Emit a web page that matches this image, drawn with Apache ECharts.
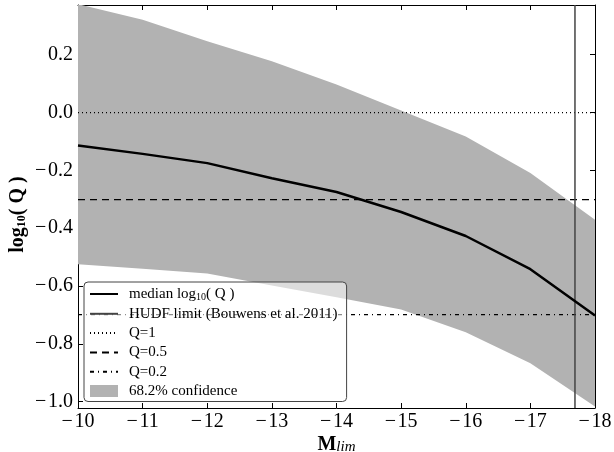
<!DOCTYPE html>
<html>
<head>
<meta charset="utf-8">
<script src="https://cdn.jsdelivr.net/npm/echarts@6/dist/echarts.min.js"></script>
<style>
html,body{margin:0;padding:0;background:#fff;}
#chart{width:614px;height:452px;}
</style>
</head>
<body>
<div id="chart"></div>
<script>
// ---- data ----
const mLim = [-10, -11, -12, -13, -14, -15, -16, -17, -18];
const medianLogQ = [-0.114, -0.143, -0.175, -0.227, -0.275, -0.344, -0.427, -0.542, -0.702];
const upper68 = [0.375, 0.321, 0.247, 0.177, 0.097, 0.007, -0.083, -0.209, -0.371];
const lower68 = [-0.525, -0.540, -0.557, -0.598, -0.639, -0.681, -0.760, -0.867, -1.017];
const hudfLimit = -17.69;
const qLevelNames = ['Q=1', 'Q=0.5', 'Q=0.2'];
const qLevelLog = [0.0, -0.301, -0.699];
const xRange = [-18, -10];
const yRange = [-1.022, 0.372];

const FONT = 'Liberation Serif';
const MINUS = '\u2212\u200A';
const minus = v => (v < 0 ? MINUS : '') + Math.abs(v);

const medianData = mLim.map((x, i) => [x, medianLogQ[i]]);

const qStyles = [
  {type: [1, 3], width: 1.2},
  {type: [7, 5], width: 1.2},
  {type: [4, 4, 1, 4], width: 1.2}
];

const series = [
  {
    name: '68.2% confidence', type: 'custom', coordinateSystem: 'cartesian2d',
    data: [[mLim[0], upper68[0]]],
    encode: {x: 0, y: 1},
    clip: true, silent: true, z: 1,
    itemStyle: {color: '#b2b2b2'},
    renderItem: function (params, api) {
      if (params.dataIndex !== 0) return null;
      const pts = [];
      for (let i = 0; i < mLim.length; i++) pts.push(api.coord([mLim[i], upper68[i]]));
      for (let i = mLim.length - 1; i >= 0; i--) pts.push(api.coord([mLim[i], lower68[i]]));
      return {type: 'polygon', shape: {points: pts}, style: {fill: '#b2b2b2', stroke: null}};
    }
  },
  {
    name: 'median', type: 'line', data: medianData, symbol: 'none',
    lineStyle: {color: '#000', width: 2.5}, itemStyle: {color: '#000'}, z: 5
  },
  {
    name: 'HUDF limit (Bouwens et al. 2011)', type: 'line',
    data: [[hudfLimit, yRange[0]], [hudfLimit, yRange[1]]], symbol: 'none',
    lineStyle: {color: '#444', width: 1.5}, itemStyle: {color: '#000'}, z: 4
  }
];
qLevelNames.forEach((n, i) => {
  series.push({
    name: n, type: 'line',
    data: [[xRange[1], qLevelLog[i]], [xRange[0], qLevelLog[i]]],
    symbol: 'none',
    lineStyle: {color: '#000', width: qStyles[i].width, type: qStyles[i].type},
    itemStyle: {color: '#000'}, z: 3
  });
});

const yLabelFmt = v => {
  if (Math.abs(v / 0.2 - Math.round(v / 0.2)) > 1e-6) return '';
  const r = Math.round(v * 10) / 10;
  return (r < 0 ? MINUS : '') + Math.abs(r).toFixed(1);
};

const axisCommon = {
  axisLine: {show: true, onZero: false, lineStyle: {color: '#000', width: 1}},
  axisTick: {show: true, inside: true, length: 5, lineStyle: {color: '#000', width: 1}},
  splitLine: {show: false}
};

const hideSym = {itemStyle: {opacity: 0}};

const chart = echarts.init(document.getElementById('chart'), null, {renderer: 'canvas'});
chart.setOption({
  animation: false,
  backgroundColor: '#fff',
  grid: {left: 78, right: 19, top: 5, bottom: 44, containLabel: false, outerBoundsMode: 'none'},
  xAxis: [
    Object.assign({
      type: 'value', min: xRange[0], max: xRange[1], interval: 1, inverse: true,
      position: 'bottom',
      name: '{b|M}{s|lim}', nameLocation: 'middle', nameGap: 27, nameMoveOverlap: false,
      nameTextStyle: {
        rich: {
          b: {fontFamily: FONT, fontWeight: 'bold', fontSize: 20, color: '#000', verticalAlign: 'bottom', lineHeight: 20},
          s: {fontFamily: FONT, fontStyle: 'italic', fontSize: 15, color: '#000', verticalAlign: 'bottom', lineHeight: 14}
        }
      },
      axisLabel: {fontFamily: FONT, fontSize: 20, color: '#000', margin: 4, formatter: minus,
                  showMinLabel: true, showMaxLabel: true}
    }, axisCommon),
    Object.assign({
      type: 'value', min: xRange[0], max: xRange[1], interval: 1, inverse: true,
      position: 'top', axisLabel: {show: false}
    }, axisCommon)
  ],
  yAxis: [
    Object.assign({
      type: 'value', min: yRange[0], max: yRange[1], splitNumber: 7,
      position: 'left',
      name: '{b|log}{s|10}{b|( Q )}', nameLocation: 'middle', nameGap: 50, nameRotate: 90,
      nameMoveOverlap: false,
      nameTextStyle: {
        padding: [0, 16, 0, 0],
        rich: {
          b: {fontFamily: FONT, fontWeight: 'bold', fontSize: 20, color: '#000', verticalAlign: 'bottom', lineHeight: 22},
          s: {fontFamily: FONT, fontWeight: 'bold', fontSize: 12, color: '#000', verticalAlign: 'bottom', lineHeight: 10}
        }
      },
      axisLabel: {fontFamily: FONT, fontSize: 20, color: '#000', margin: 5, formatter: yLabelFmt}
    }, axisCommon),
    Object.assign({
      type: 'value', min: yRange[0], max: yRange[1], splitNumber: 7,
      position: 'right', axisLabel: {show: false}
    }, axisCommon)
  ],
  legend: {
    orient: 'vertical', left: 84, top: 282,
    padding: [5, 9, 3, 5],
    itemWidth: 28, itemHeight: 12, itemGap: 4.3,
    backgroundColor: 'rgba(255,255,255,0.55)',
    borderColor: '#444', borderWidth: 1, borderRadius: 4,
    selectedMode: false,
    textStyle: {fontFamily: FONT, fontSize: 15, color: '#000', padding: [0, 0, 0, 6],
      rich: {
        a: {fontFamily: FONT, fontSize: 15, color: '#000', verticalAlign: 'bottom', lineHeight: 16},
        s: {fontFamily: FONT, fontSize: 10, color: '#000', verticalAlign: 'bottom', lineHeight: 8}
      }
    },
    formatter: n => n === 'median' ? '{a|median log}{s|10}{a|( Q )}' : n,
    data: [
      Object.assign({name: 'median'}, hideSym),
      Object.assign({name: 'HUDF limit (Bouwens et al. 2011)'}, hideSym),
      Object.assign({name: 'Q=1'}, hideSym),
      Object.assign({name: 'Q=0.5'}, hideSym),
      Object.assign({name: 'Q=0.2'}, hideSym),
      {name: '68.2% confidence', icon: 'rect', itemStyle: {color: '#b2b2b2'}}
    ]
  },
  series: series
});
</script>
</body>
</html>
